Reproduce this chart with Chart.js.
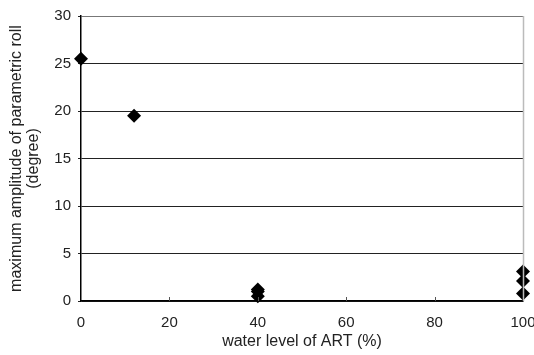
<!DOCTYPE html>
<html>
<head>
<meta charset="utf-8">
<script src="https://cdn.jsdelivr.net/npm/chart.js@4/dist/chart.umd.min.js"></script>
<style>
html,body{margin:0;padding:0;background:#fff;}
#wrap{width:534px;height:355px;}
</style>
</head>
<body>
<div id="wrap"><canvas id="grafico"></canvas></div>
<script>
const nivelAgua=[0,12,40,40,40,100,100,100];
const amplitud=[25.5,19.5,1.2,1.0,0.5,3.1,2.1,0.8];
const ticksX=[0,20,40,60,80,100];
const ticksY=[0,5,10,15,20,25,30];

const puntos=nivelAgua.map((x,i)=>({x:x,y:amplitud[i]}));
const FUENTE={family:'"Liberation Sans", Arial, sans-serif',size:15};
const FUENTE_TIT={family:'"Liberation Sans", Arial, sans-serif',size:16,lineHeight:1.05};

// marco derecho gris y marcas cortas hacia dentro en el eje x
const marco={
 id:'marco',
 afterDraw(c){
  const a=c.chartArea,ctx=c.ctx,sx=c.scales.x;
  ctx.save();
  ctx.strokeStyle='#bbb';ctx.lineWidth=1.5;
  ctx.beginPath();ctx.moveTo(a.right+0.5,a.top);ctx.lineTo(a.right+0.5,a.bottom);ctx.stroke();
  ctx.strokeStyle='#555';ctx.lineWidth=1;
  ticksX.slice(1,-1).forEach(v=>{
   const px=Math.round(sx.getPixelForValue(v))+0.5;
   ctx.beginPath();ctx.moveTo(px,a.bottom);ctx.lineTo(px,a.bottom-4);ctx.stroke();
  });
  ctx.restore();
 }
};

new Chart(document.getElementById('grafico'),{
 type:'scatter',
 data:{datasets:[{
  data:puntos,
  pointStyle:'rectRot',
  pointRadius:7,
  pointHoverRadius:7,
  backgroundColor:'#000',
  borderColor:'#000',
  borderWidth:0,
  clip:false
 }]},
 options:{
  responsive:true,
  maintainAspectRatio:false,
  animation:false,
  layout:{padding:{top:16,right:11,left:0,bottom:0}},
  plugins:{legend:{display:false},tooltip:{enabled:false}},
  scales:{
   x:{
    type:'linear',min:0,max:100,
    afterBuildTicks:s=>{s.ticks=ticksX.map(v=>({value:v}));},
    afterFit:s=>{s.height=54;s.paddingLeft=0;s.paddingRight=0;},
    grid:{display:false,drawTicks:false},
    border:{display:true,color:'#000',width:1.5},
    ticks:{color:'#222',font:FUENTE,padding:13,maxRotation:0},
    title:{display:true,text:'water level of ART (%)',color:'#222',font:FUENTE_TIT,padding:{top:0,bottom:5}}
   },
   y:{
    type:'linear',min:0,max:30,
    afterBuildTicks:s=>{s.ticks=ticksY.map(v=>({value:v}));},
    afterFit:s=>{s.width=81;s.paddingTop=0;s.paddingBottom=0;},
    grid:{
     color:c=>c.tick&&c.tick.value===30?'#777':'#222',
     lineWidth:1,
     tickLength:3,
     tickColor:'#222'
    },
    border:{display:true,color:'#000',width:1.5},
    ticks:{color:'#222',font:FUENTE,padding:7},
    title:{display:true,text:['maximum amplitude of parametric roll','(degree)'],color:'#222',font:FUENTE_TIT,padding:{top:8,bottom:0}}
   }
  }
 },
 plugins:[marco]
});
</script>
</body>
</html>
